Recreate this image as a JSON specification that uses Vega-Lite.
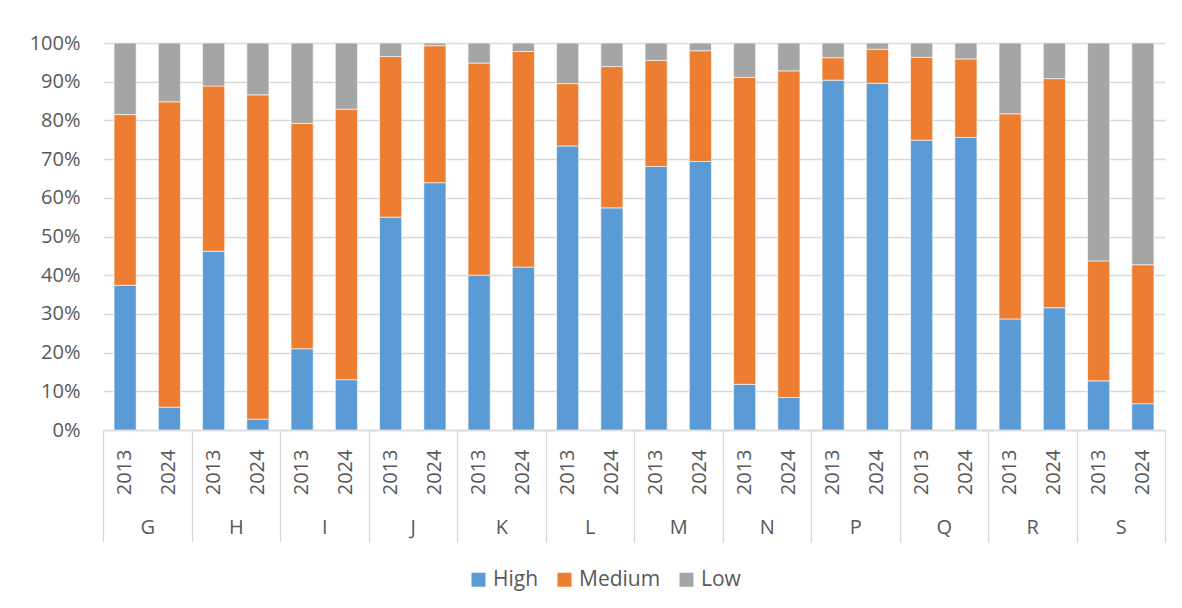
{
  "$schema": "https://vega.github.io/schema/vega-lite/v6.json",
  "autosize": "none",
  "width": 1062,
  "height": 387,
  "padding": {"left": 103, "top": 43, "right": 17, "bottom": 178},
  "background": "white",
  "config": {
    "view": {"stroke": null},
    "font": "Open Sans",
    "axis": {"labelFont": "Open Sans", "labelColor": "#595959", "labelFontSize": 20},
    "legend": {"labelFont": "Open Sans", "labelColor": "#595959", "labelFontSize": 21}
  },
  "data": {
    "values": [
      {"cat": "G", "year": "2013", "level": "High", "pct": 37.4},
      {"cat": "G", "year": "2013", "level": "Medium", "pct": 44.1},
      {"cat": "G", "year": "2013", "level": "Low", "pct": 18.5},
      {"cat": "G", "year": "2024", "level": "High", "pct": 5.9},
      {"cat": "G", "year": "2024", "level": "Medium", "pct": 78.9},
      {"cat": "G", "year": "2024", "level": "Low", "pct": 15.2},
      {"cat": "H", "year": "2013", "level": "High", "pct": 46.2},
      {"cat": "H", "year": "2013", "level": "Medium", "pct": 42.7},
      {"cat": "H", "year": "2013", "level": "Low", "pct": 11.1},
      {"cat": "H", "year": "2024", "level": "High", "pct": 2.8},
      {"cat": "H", "year": "2024", "level": "Medium", "pct": 83.8},
      {"cat": "H", "year": "2024", "level": "Low", "pct": 13.4},
      {"cat": "I", "year": "2013", "level": "High", "pct": 21.0},
      {"cat": "I", "year": "2013", "level": "Medium", "pct": 58.2},
      {"cat": "I", "year": "2013", "level": "Low", "pct": 20.8},
      {"cat": "I", "year": "2024", "level": "High", "pct": 13.0},
      {"cat": "I", "year": "2024", "level": "Medium", "pct": 69.9},
      {"cat": "I", "year": "2024", "level": "Low", "pct": 17.1},
      {"cat": "J", "year": "2013", "level": "High", "pct": 55.0},
      {"cat": "J", "year": "2013", "level": "Medium", "pct": 41.5},
      {"cat": "J", "year": "2013", "level": "Low", "pct": 3.5},
      {"cat": "J", "year": "2024", "level": "High", "pct": 63.9},
      {"cat": "J", "year": "2024", "level": "Medium", "pct": 35.4},
      {"cat": "J", "year": "2024", "level": "Low", "pct": 0.7},
      {"cat": "K", "year": "2013", "level": "High", "pct": 40.0},
      {"cat": "K", "year": "2013", "level": "Medium", "pct": 54.8},
      {"cat": "K", "year": "2013", "level": "Low", "pct": 5.2},
      {"cat": "K", "year": "2024", "level": "High", "pct": 42.1},
      {"cat": "K", "year": "2024", "level": "Medium", "pct": 55.7},
      {"cat": "K", "year": "2024", "level": "Low", "pct": 2.2},
      {"cat": "L", "year": "2013", "level": "High", "pct": 73.4},
      {"cat": "L", "year": "2013", "level": "Medium", "pct": 16.1},
      {"cat": "L", "year": "2013", "level": "Low", "pct": 10.5},
      {"cat": "L", "year": "2024", "level": "High", "pct": 57.4},
      {"cat": "L", "year": "2024", "level": "Medium", "pct": 36.5},
      {"cat": "L", "year": "2024", "level": "Low", "pct": 6.1},
      {"cat": "M", "year": "2013", "level": "High", "pct": 68.1},
      {"cat": "M", "year": "2013", "level": "Medium", "pct": 27.4},
      {"cat": "M", "year": "2013", "level": "Low", "pct": 4.5},
      {"cat": "M", "year": "2024", "level": "High", "pct": 69.4},
      {"cat": "M", "year": "2024", "level": "Medium", "pct": 28.6},
      {"cat": "M", "year": "2024", "level": "Low", "pct": 2.0},
      {"cat": "N", "year": "2013", "level": "High", "pct": 11.8},
      {"cat": "N", "year": "2013", "level": "Medium", "pct": 79.3},
      {"cat": "N", "year": "2013", "level": "Low", "pct": 8.9},
      {"cat": "N", "year": "2024", "level": "High", "pct": 8.4},
      {"cat": "N", "year": "2024", "level": "Medium", "pct": 84.4},
      {"cat": "N", "year": "2024", "level": "Low", "pct": 7.2},
      {"cat": "P", "year": "2013", "level": "High", "pct": 90.4},
      {"cat": "P", "year": "2013", "level": "Medium", "pct": 5.8},
      {"cat": "P", "year": "2013", "level": "Low", "pct": 3.8},
      {"cat": "P", "year": "2024", "level": "High", "pct": 89.6},
      {"cat": "P", "year": "2024", "level": "Medium", "pct": 8.8},
      {"cat": "P", "year": "2024", "level": "Low", "pct": 1.6},
      {"cat": "Q", "year": "2013", "level": "High", "pct": 74.9},
      {"cat": "Q", "year": "2013", "level": "Medium", "pct": 21.4},
      {"cat": "Q", "year": "2013", "level": "Low", "pct": 3.7},
      {"cat": "Q", "year": "2024", "level": "High", "pct": 75.6},
      {"cat": "Q", "year": "2024", "level": "Medium", "pct": 20.3},
      {"cat": "Q", "year": "2024", "level": "Low", "pct": 4.1},
      {"cat": "R", "year": "2013", "level": "High", "pct": 28.7},
      {"cat": "R", "year": "2013", "level": "Medium", "pct": 53.0},
      {"cat": "R", "year": "2013", "level": "Low", "pct": 18.3},
      {"cat": "R", "year": "2024", "level": "High", "pct": 31.6},
      {"cat": "R", "year": "2024", "level": "Medium", "pct": 59.2},
      {"cat": "R", "year": "2024", "level": "Low", "pct": 9.2},
      {"cat": "S", "year": "2013", "level": "High", "pct": 12.7},
      {"cat": "S", "year": "2013", "level": "Medium", "pct": 31.0},
      {"cat": "S", "year": "2013", "level": "Low", "pct": 56.3},
      {"cat": "S", "year": "2024", "level": "High", "pct": 6.8},
      {"cat": "S", "year": "2024", "level": "Medium", "pct": 35.9},
      {"cat": "S", "year": "2024", "level": "Low", "pct": 57.3}
    ]
  },
  "transform": [
    {"calculate": "datum.cat + ' ' + datum.year", "as": "key"},
    {"calculate": "indexof(['High','Medium','Low'], datum.level)", "as": "ord"}
  ],
  "layer": [
    {
      "mark": {"type": "bar", "stroke": "white", "strokeWidth": 0.6},
      "encoding": {
        "x": {
          "field": "key",
          "type": "nominal",
          "scale": {"paddingInner": 0.5, "paddingOuter": 0.25},
          "axis": {
            "orient": "bottom",
            "title": null,
            "labelExpr": "split(datum.label, ' ')[1]",
            "labelAngle": -90,
            "labelPadding": 19,
            "ticks": false,
            "domain": true,
            "domainColor": "#D9D9D9",
            "domainWidth": 1.3,
            "grid": false
          }
        },
        "y": {
          "field": "pct",
          "type": "quantitative",
          "stack": "normalize",
          "scale": {"domain": [0, 1]},
          "axis": {
            "title": null,
            "format": ".0%",
            "values": [0, 0.1, 0.2, 0.3, 0.4, 0.5, 0.6, 0.7, 0.8, 0.9, 1],
            "domain": false,
            "ticks": false,
            "labelPadding": 23,
            "grid": true,
            "gridColor": "#D9D9D9",
            "gridWidth": 1.3
          }
        },
        "color": {
          "field": "level",
          "type": "nominal",
          "scale": {"domain": ["High", "Medium", "Low"], "range": ["#5B9BD5", "#ED7D31", "#A5A5A5"]},
          "legend": {
            "title": null,
            "orient": "none",
            "direction": "horizontal",
            "legendX": 365,
            "legendY": 526,
            "symbolType": "square",
            "symbolSize": 196,
            "symbolStrokeWidth": 0,
            "labelOffset": 4,
            "columnPadding": 15
          }
        },
        "order": {"field": "ord", "type": "quantitative"}
      }
    },
    {
      "mark": {"type": "point", "opacity": 0},
      "encoding": {
        "x": {
          "field": "cat",
          "type": "nominal",
          "scale": {"paddingInner": 0, "paddingOuter": 0},
          "axis": {
            "orient": "bottom",
            "title": null,
            "labelAngle": 0,
            "domain": false,
            "ticks": true,
            "tickBand": "extent",
            "tickSize": 112,
            "tickColor": "#D9D9D9",
            "tickWidth": 1.3,
            "labelPadding": -25,
            "grid": false
          }
        }
      }
    }
  ],
  "resolve": {"scale": {"x": "independent"}, "axis": {"x": "independent"}}
}
